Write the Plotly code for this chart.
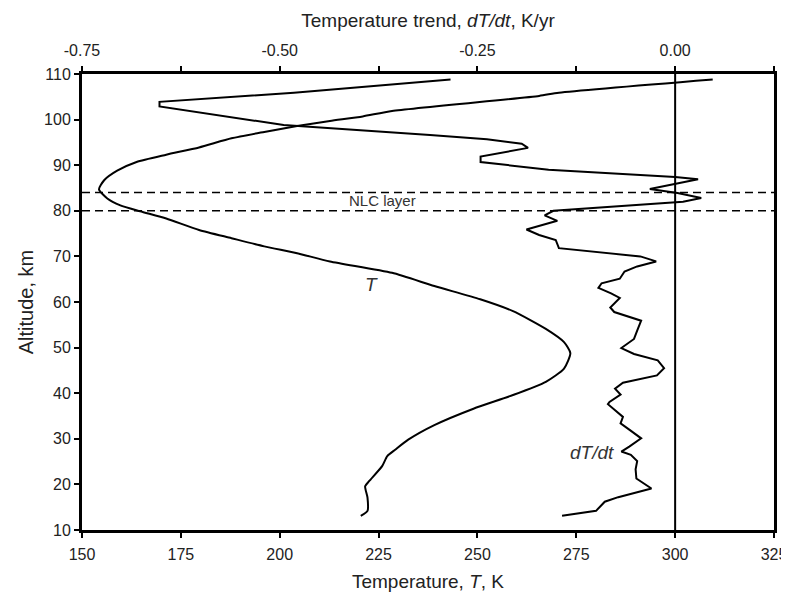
import plotly.graph_objects as go

# Temperature profile T (K) vs altitude (km)  -- bottom axis
t_alt = [13.1, 14.2, 17.1, 19.6, 20.7, 24.0, 26.2, 27.6, 29.8, 33.0, 36.6, 39.6, 42.5,
         45.4, 48.8, 51.2, 54.1, 58.0, 60.6, 63.5, 66.4, 68.9, 70.7, 72.2, 74.0, 75.8,
         78.3, 79.9, 81.2, 82.7, 84.7, 86.7, 88.8, 90.7, 92.3, 93.9, 95.9, 97.3, 98.6,
         99.7, 100.7, 101.9, 105.2, 105.9, 108.8]
t_val = [220.5, 222.2, 222.2, 221.6, 222.6, 225.9, 227.2, 229.2, 232.5, 239.1, 249.0, 259.0, 267.3,
         271.9, 273.5, 271.9, 267.3, 259.0, 250.7, 239.1, 228.4, 212.7, 204.4, 196.1, 187.8, 179.6,
         171.3, 164.7, 159.7, 156.4, 154.3, 155.6, 158.9, 163.8, 171.3, 179.6, 187.8, 196.1, 204.4,
         212.7, 221.0, 228.4, 265.6, 270.6, 309.5]

# Temperature trend dT/dt (K/yr) vs altitude (km) -- top axis
d_alt = [13.1, 14.2, 16.2, 17.2, 19.1, 21.3, 23.3, 25.1, 26.5, 27.2, 28.3, 30.1, 32.0, 33.4,
         34.8, 36.3, 37.6, 38.1, 39.7, 41.0, 42.3, 43.9, 45.5, 47.2, 48.6, 49.9, 51.9, 53.7,
         55.9, 57.8, 58.8, 60.9, 61.9, 63.1, 64.1, 65.1, 66.7, 67.8, 68.9, 70.0, 71.8, 73.6,
         74.7, 75.9, 77.8, 79.0, 80.0, 82.0, 82.8, 83.9, 84.8, 86.9, 87.4, 89.0, 90.7, 91.9,
         93.8, 94.7, 95.7, 96.6, 97.5, 98.8, 102.9, 103.9, 105.9, 107.8, 108.8]
d_val = [-0.143, -0.100, -0.089, -0.072, -0.030, -0.049, -0.050, -0.048, -0.056, -0.068, -0.058, -0.043, -0.058, -0.069,
         -0.066, -0.077, -0.085, -0.083, -0.069, -0.076, -0.066, -0.023, -0.014, -0.022, -0.052, -0.068, -0.052, -0.048,
         -0.043, -0.077, -0.082, -0.070, -0.081, -0.097, -0.093, -0.070, -0.064, -0.048, -0.024, -0.044, -0.147, -0.151,
         -0.172, -0.188, -0.149, -0.165, -0.154, 0.010, 0.033, 0.003, -0.032, 0.029, 0.000, -0.160, -0.246, -0.246,
         -0.186, -0.194, -0.238, -0.310, -0.390, -0.495, -0.652, -0.652, -0.482, -0.358, -0.284]

temp_ticks = [150, 175, 200, 225, 250, 275, 300, 325]
trend_ticks = [-0.75, -0.625, -0.50, -0.375, -0.25, -0.125, 0.00, 0.125]
trend_labels = ["-0.75", "", "-0.50", "", "-0.25", "", "0.00", ""]
alt_ticks = [10, 20, 30, 40, 50, 60, 70, 80, 90, 100, 110]
nlc_bounds = [80, 84]

FONT = "Liberation Sans, Arial, sans-serif"
TXT = "#222222"

fig = go.Figure()
fig.add_trace(go.Scatter(x=t_val, y=t_alt, mode="lines", xaxis="x", yaxis="y",
                         line=dict(color="black", width=2, shape="spline", smoothing=0.6),
                         showlegend=False, hoverinfo="skip"))
fig.add_trace(go.Scatter(x=d_val, y=d_alt, mode="lines", xaxis="x2", yaxis="y",
                         line=dict(color="black", width=2),
                         showlegend=False, hoverinfo="skip"))

for yb in nlc_bounds:
    fig.add_shape(type="line", xref="paper", yref="y", x0=0, x1=1, y0=yb, y1=yb,
                  line=dict(color="black", width=1.5, dash="8px,5px"))
fig.add_shape(type="line", xref="x2", yref="paper", x0=0, x1=0, y0=0, y1=1,
              line=dict(color="black", width=2))

fig.add_annotation(x=226.0, y=82.2, xref="x", yref="y", text="NLC layer", showarrow=False,
                   font=dict(family=FONT, size=15, color="#333333"))
fig.add_annotation(x=223.2, y=63.8, xref="x", yref="y", text="<i>T</i>", showarrow=False,
                   font=dict(family=FONT, size=19, color="#333333"))
fig.add_annotation(x=279.0, y=27.0, xref="x", yref="y", text="<i>dT/dt</i>", showarrow=False,
                   font=dict(family=FONT, size=19, color="#333333"))

axis_common = dict(showgrid=False, zeroline=False, showline=True, linecolor="black", linewidth=3,
                   ticks="outside", ticklen=5, tickwidth=2, tickcolor="black",
                   tickfont=dict(family=FONT, size=16, color=TXT), ticklabeloverflow="allow")

fig.update_layout(
    width=789, height=592,
    margin=dict(l=74, r=10, t=66, b=66),
    paper_bgcolor="white", plot_bgcolor="white",
    xaxis=dict(range=[150, 325], tickvals=temp_ticks, ticklabelstandoff=3,
               title=dict(text="Temperature, <i>T</i>, K", font=dict(family=FONT, size=19, color=TXT), standoff=13),
               **axis_common),
    xaxis2=dict(range=[-0.75, 0.125], tickvals=trend_ticks, ticktext=trend_labels,
                overlaying="x", side="top", ticklabelstandoff=4,
                title=dict(text="Temperature trend, <i>dT/dt</i>, K/yr", font=dict(family=FONT, size=19, color=TXT), standoff=9),
                **axis_common),
    yaxis=dict(range=[10, 110], tickvals=alt_ticks, mirror=True,
               title=dict(text="Altitude, km", font=dict(family=FONT, size=20, color=TXT), standoff=6),
               **axis_common),
)

fig.write_html("out.html")
